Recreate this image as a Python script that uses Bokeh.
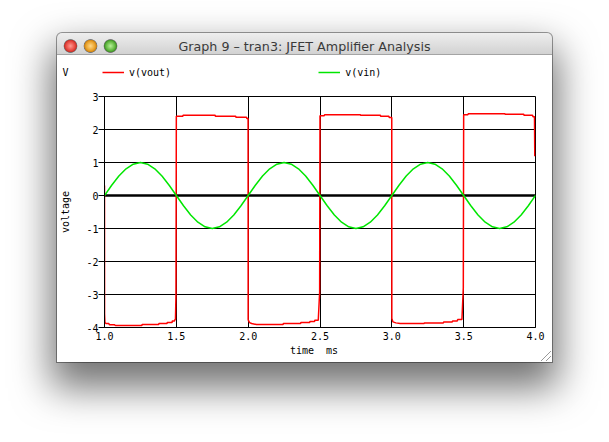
from bokeh.plotting import figure
from bokeh.layouts import column
from bokeh.models import (Span, FixedTicker, PrintfTickFormatter, Legend, LegendItem, Label)
from bokeh.embed import file_html
from bokeh.resources import INLINE

# ---------------- data ----------------
window_title = "Graph 9 \u2013 tran3: JFET Amplifier Analysis"
unit_label = "V"
series_names = ["v(vout)", "v(vin)"]
series_colors = ["#ff0000", "#00e600"]
x_ticks = [1.0, 1.5, 2.0, 2.5, 3.0, 3.5, 4.0]
y_ticks = [-4, -3, -2, -1, 0, 1, 2, 3]

vin_t = [1.00, 1.05, 1.10, 1.15, 1.20, 1.25, 1.30, 1.35, 1.40, 1.45,
         1.50, 1.55, 1.60, 1.65, 1.70, 1.75, 1.80, 1.85, 1.90, 1.95,
         2.00, 2.05, 2.10, 2.15, 2.20, 2.25, 2.30, 2.35, 2.40, 2.45,
         2.50, 2.55, 2.60, 2.65, 2.70, 2.75, 2.80, 2.85, 2.90, 2.95,
         3.00, 3.05, 3.10, 3.15, 3.20, 3.25, 3.30, 3.35, 3.40, 3.45,
         3.50, 3.55, 3.60, 3.65, 3.70, 3.75, 3.80, 3.85, 3.90, 3.95, 4.00]
vin_v = [0.00, 0.31, 0.59, 0.81, 0.95, 1.00, 0.95, 0.81, 0.59, 0.31,
         0.00, -0.31, -0.59, -0.81, -0.95, -1.00, -0.95, -0.81, -0.59, -0.31,
         0.00, 0.31, 0.59, 0.81, 0.95, 1.00, 0.95, 0.81, 0.59, 0.31,
         0.00, -0.31, -0.59, -0.81, -0.95, -1.00, -0.95, -0.81, -0.59, -0.31,
         0.00, 0.31, 0.59, 0.81, 0.95, 1.00, 0.95, 0.81, 0.59, 0.31,
         0.00, -0.31, -0.59, -0.81, -0.95, -1.00, -0.95, -0.81, -0.59, -0.31, 0.00]

vout_t = [1.000, 1.0005, 1.003, 1.010, 1.030, 1.035, 1.070, 1.076, 1.260, 1.262,
          1.377, 1.379, 1.435, 1.437, 1.470, 1.472, 1.488, 1.490, 1.494, 1.4975,
          1.500, 1.545, 1.547, 1.770, 1.772, 1.913, 1.915, 1.989, 1.991, 1.9995,
          2.000, 2.003, 2.010, 2.024, 2.058, 2.243, 2.245, 2.365, 2.367, 2.428,
          2.430, 2.462, 2.464, 2.488, 2.4975, 2.500, 2.530, 2.532, 2.780, 2.782,
          2.920, 2.922, 2.980, 2.982, 2.9995, 3.000, 3.008, 3.028, 3.058, 3.225,
          3.227, 3.359, 3.361, 3.421, 3.423, 3.456, 3.458, 3.488, 3.4975, 3.500,
          3.530, 3.532, 3.786, 3.788, 3.918, 3.920, 3.980, 3.982, 3.993, 3.995]
vout_v = [0.30, -3.59, -3.85, -3.88, -3.88, -3.92, -3.92, -3.94, -3.94, -3.91,
          -3.91, -3.88, -3.88, -3.85, -3.85, -3.80, -3.80, -3.76, -3.76, -3.00,
          2.40, 2.40, 2.43, 2.43, 2.40, 2.40, 2.37, 2.37, 2.33, 2.33,
          -3.76, -3.80, -3.85, -3.88, -3.91, -3.91, -3.88, -3.88, -3.85, -3.85,
          -3.82, -3.82, -3.78, -3.78, -2.93, 2.42, 2.42, 2.45, 2.45, 2.43,
          2.43, 2.40, 2.40, 2.36, 2.36, -3.73, -3.83, -3.86, -3.88, -3.88,
          -3.86, -3.86, -3.83, -3.83, -3.80, -3.80, -3.76, -3.76, -2.80, 2.45,
          2.45, 2.48, 2.48, 2.46, 2.46, 2.43, 2.43, 2.39, 2.39, 1.19]

MONO = "DejaVu Sans Mono"
WIN_W = 495
TOP_H = 55      # title bar + legend row (page y 33..88)
MAIN_H = 274    # page y 88..362

# ---------------- header figure: window title + legend row ----------------
top = figure(width=WIN_W, height=TOP_H, output_backend="svg", toolbar_location=None,
             title=None, x_axis_type=None, y_axis_type=None,
             x_range=(-3, -2), y_range=(-3, -2),
             min_border_left=0, min_border_right=0, min_border_top=0, min_border_bottom=0)
top.grid.visible = False
top.outline_line_color = None
top.background_fill_alpha = 0
top.border_fill_alpha = 0

# ---------------- main plot ----------------
p = figure(width=WIN_W, height=MAIN_H, output_backend="svg", toolbar_location=None, title=None,
           x_range=(1.0, 4.0), y_range=(-4, 3),
           min_border_left=45, min_border_right=17, min_border_top=8, min_border_bottom=35)

try:
    top.frame_align = False
    p.frame_align = False
    OFF = 0
except Exception:
    OFF = 45

top.add_layout(Label(x=247 - OFF, y=TOP_H - 13, x_units="screen", y_units="screen",
                     text=window_title, text_align="center", text_baseline="middle",
                     text_font="DejaVu Sans", text_font_size="12.7px", text_color="#3a3a3a"))
top.add_layout(Label(x=5 - OFF, y=TOP_H - 39, x_units="screen", y_units="screen",
                     text=unit_label, text_align="left", text_baseline="middle",
                     text_font=MONO, text_font_size="10px", text_color="black"))

# legend swatches: the two series drawn off-range in the header figure
swatches = [top.line(vout_t, vout_v, line_color=series_colors[0], line_width=1.5),
            top.line(vin_t, vin_v, line_color=series_colors[1], line_width=1.5)]
legend = Legend(items=[LegendItem(label=n, renderers=[r]) for n, r in zip(series_names, swatches)],
                location=(45 - OFF, TOP_H - 45), orientation="horizontal",
                padding=0, margin=0, spacing=147,
                glyph_width=22, glyph_height=12, label_height=12, label_standoff=5,
                label_text_font=MONO, label_text_font_size="10px",
                label_text_color="black", border_line_color=None,
                background_fill_alpha=0)
top.add_layout(legend, "center")

p.border_fill_alpha = 0
p.background_fill_color = "white"
p.outline_line_color = "black"
p.outline_line_width = 1

p.xaxis.ticker = FixedTicker(ticks=x_ticks)
p.yaxis.ticker = FixedTicker(ticks=y_ticks)
p.xaxis.formatter = PrintfTickFormatter(format="%.1f")
p.yaxis.formatter = PrintfTickFormatter(format="%d")
for ax in (p.xaxis[0], p.yaxis[0]):
    ax.axis_line_color = "black"
    ax.major_label_text_font = MONO
    ax.major_label_text_font_size = "10px"
    ax.major_label_text_color = "black"
    ax.axis_label_text_font = MONO
    ax.axis_label_text_font_size = "10px"
    ax.axis_label_text_font_style = "normal"
    ax.axis_label_text_color = "black"
    ax.minor_tick_line_color = None
    ax.major_tick_in = 0
    ax.major_tick_line_color = "black"
p.xaxis.major_tick_out = 0
p.xaxis.major_label_standoff = 4
p.xaxis.axis_label = "time\u00a0\u00a0ms\u00a0\u00a0"
p.xaxis.axis_label_standoff = 2
p.yaxis.major_tick_out = 6
p.yaxis.major_label_standoff = 0
p.yaxis.axis_label = "voltage"
p.yaxis.axis_label_standoff = 12

for g in (p.xgrid[0], p.ygrid[0]):
    g.grid_line_color = "black"
    g.grid_line_width = 1
    g.grid_line_alpha = 1
p.xgrid.ticker = FixedTicker(ticks=x_ticks)
p.ygrid.ticker = FixedTicker(ticks=y_ticks)

p.add_layout(Span(location=0, dimension="width", line_color="black", line_width=2.5,
                  level="underlay"))

p.line(vout_t, vout_v, line_color=series_colors[0], line_width=1.5)
p.line(vin_t, vin_v, line_color=series_colors[1], line_width=1.5)

# ---------------- window chrome (CSS on the layout) ----------------
def light(cx, c0, c1, c2):
    return (f"radial-gradient(circle at {cx}px 13px, {c0} 0px, {c1} 4.5px, {c2} 6px, "
            f"rgba(0,0,0,0.45) 6.5px, rgba(0,0,0,0) 7.2px)")

win = column(top, p, spacing=0)
win.margin = (33, 0, 0, 57)
win.styles = {
    "background-color": "white",
    "background-image": ", ".join([
        light(13.5, "#ff9a92", "#e8483f", "#c3332c"),
        light(33.5, "#ffd98a", "#eaa22a", "#c98218"),
        light(53.5, "#b8f09a", "#62b840", "#43902c"),
        "linear-gradient(135deg, #ffffff 55%, rgba(255,255,255,0) 55%)",
        "repeating-linear-gradient(135deg, rgba(0,0,0,0) 0px, rgba(0,0,0,0) 2.5px, #9a9a9a 2.5px, #9a9a9a 3.5px)",
        "linear-gradient(to bottom, #eeeeee 0px, #d2d2d2 21px, #a4a4a4 21px, #a4a4a4 22px, #ffffff 22px)",
    ]),
    "background-position": "0 0, 0 0, 0 0, 482px 316px, 482px 316px, 0 0",
    "background-size": "auto, auto, auto, 12px 12px, 12px 12px, auto",
    "background-repeat": "no-repeat",
    "border-radius": "5px 5px 0 0",
    "box-shadow": "0 0 0 1px rgba(0,0,0,0.38), 0 20px 38px 6px rgba(0,0,0,0.55)",
}

open("out.html", "w").write(file_html(win, INLINE))
